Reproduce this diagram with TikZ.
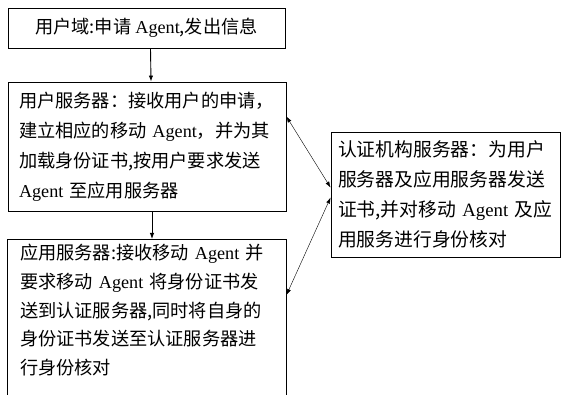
\documentclass[tikz,border=0pt]{standalone}
\usepackage{fontspec}
\setmainfont{Noto Sans CJK SC}
\newfontfamily\latfont{Liberation Serif}
\newcommand{\ag}{{\latfont Agent}}
\usetikzlibrary{arrows.meta}
\tikzset{
  box/.style={draw, line width=0.9pt, font=\fontsize{18.2pt}{30pt}\selectfont, align=left, inner ysep=4pt},
  vline/.style={line width=0.9pt, -{Latex[length=6pt,width=4.5pt]}},
  dline/.style={line width=0.4pt, {Latex[length=6pt,width=4pt]}-{Latex[length=6pt,width=4pt]}}
}
\begin{document}
\begin{tikzpicture}[x=1pt,y=1pt]
\useasboundingbox (0,0) rectangle (561,395);
% box 1
\node[box, minimum width=277pt, minimum height=40pt, inner xsep=0pt] (b1) at (146.5,367) {用户域:申请 \ag,发出信息};
% box 2
\node[box, text width=256pt, inner xsep=11pt, minimum height=129pt] (b2) at (147,248.5)
  {用户服务器：接收用户的申请，\\建立相应的移动 \ag，并为其\\加载身份证书,按用户要求发送\\\ag{} 至应用服务器};
% box 3 (extends below the page)
\node[box, draw=none, text width=254pt, inner xsep=12pt, inner ysep=5pt, anchor=north,
  font=\fontsize{18.2pt}{28.7pt}\selectfont] (b3) at (147,156)
  {应用服务器:接收移动 \ag{} 并\\要求移动 \ag{} 将身份证书发\\送到认证服务器,同时将自身的\\身份证书发送至认证服务器进\\行身份核对};
\draw[line width=0.9pt] ([yshift=-170pt]b3.north west) -- (b3.north west) -- (b3.north east) -- ([yshift=-170pt]b3.north east);
% box 4
\node[box, text width=215pt, inner xsep=7pt, minimum height=125pt,
  font=\fontsize{18.8pt}{30pt}\selectfont] (b4) at (445.5,200.5)
  {认证机构服务器：为用户\\服务器及应用服务器发送\\证书,并对移动 \ag{} 及应\\用服务进行身份核对};
% connectors
\draw[vline] ([xshift=4pt]b1.south) -- ([xshift=4pt]b2.north);
\draw[vline] ([xshift=5pt]b2.south) -- ([xshift=5pt]b3.north);
\draw[dline] ([yshift=-35pt]b2.north east) -- ([yshift=-56pt]b4.north west);
\draw[dline] ([yshift=-66pt]b4.north west) -- ([yshift=-56pt]b3.north east);
\end{tikzpicture}
\end{document}
